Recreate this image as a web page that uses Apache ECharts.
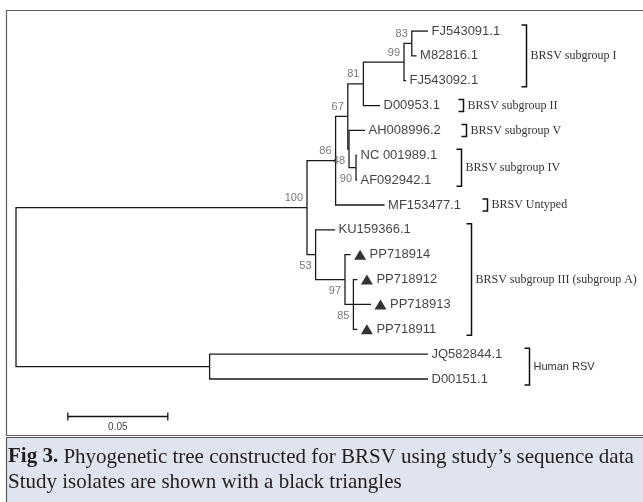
<!DOCTYPE html>
<html>
<head>
<meta charset="utf-8">
<script src="https://cdn.jsdelivr.net/npm/echarts@6/dist/echarts.min.js"></script>
<style>
  html, body { margin: 0; padding: 0; background: #fff; }
  #chart { width: 643px; height: 502px; }
</style>
</head>
<body>
<div id="chart"></div>
<script>
// leaves, top to bottom, with their distance from the root
const leafNames = ['FJ543091.1', 'M82816.1', 'FJ543092.1', 'D00953.1', 'AH008996.2', 'NC 001989.1',
  'AF092942.1', 'MF153477.1', 'KU159366.1', 'PP718914', 'PP718912', 'PP718913', 'PP718911',
  'JQ582844.1', 'D00151.1'];
const leafDepth = [0.206, 0.2003, 0.195, 0.182, 0.1745, 0.1705, 0.1705, 0.1843, 0.1595,
  0.1673, 0.1707, 0.1775, 0.1707, 0.206, 0.206];
// study isolates get a black triangle
const studyIsolates = ['PP718914', 'PP718912', 'PP718913', 'PP718911'];

// internal nodes
const nodeIds = ['root', 'n100', 'n86', 'n67', 'n81', 'n99', 'n83', 'n48', 'n90', 'n53', 'n97', 'n85', 'nHuman'];
const nodeDepth = [0, 0.1455, 0.1598, 0.1659, 0.1737, 0.194, 0.1979, 0.1665, 0.17, 0.1498, 0.1645, 0.1687, 0.0968];
const nodeChildren = [
  ['n100', 'nHuman'],
  ['n86', 'n53'],
  ['n67', 'MF153477.1'],
  ['n81', 'n48'],
  ['n99', 'D00953.1'],
  ['n83', 'FJ543092.1'],
  ['FJ543091.1', 'M82816.1'],
  ['AH008996.2', 'n90'],
  ['NC 001989.1', 'AF092942.1'],
  ['KU159366.1', 'n97'],
  ['PP718914', 'n85'],
  ['PP718912', 'PP718913', 'PP718911'],
  ['JQ582844.1', 'D00151.1']
];
const nodeSupport = [null, 100, 86, 67, 81, 99, 83, 48, 90, 53, 97, 85, null];

// clades marked with brackets
const cladeNames = ['BRSV subgroup I', 'BRSV subgroup II', 'BRSV subgroup V', 'BRSV subgroup IV',
  'BRSV Untyped', 'BRSV subgroup III (subgroup A)', 'Human RSV'];
const cladeFirst = ['FJ543091.1', 'D00953.1', 'AH008996.2', 'NC 001989.1', 'MF153477.1', 'KU159366.1', 'JQ582844.1'];
const cladeLast = ['FJ543092.1', 'D00953.1', 'AH008996.2', 'AF092942.1', 'MF153477.1', 'PP718911', 'D00151.1'];

const scaleBarLength = 0.05;
const scaleBarLabel = '0.05';

// layout only (axis units / pixels)
const cladeBracketX = [0.2549, 0.2237, 0.2249, 0.2225, 0.2353, 0.2275, 0.2565];
const supportBelow = ['n48', 'n90', 'n53', 'n97', 'n85'];
const scaleBarAt = [0.0259, 15.48];

// node positions: leaves by row, internal nodes centred on their first/last child
const pos = {};
leafNames.forEach((n, i) => { pos[n] = { x: leafDepth[i], y: i }; });
const place = (id) => {
  if (pos[id]) return pos[id];
  const k = nodeIds.indexOf(id);
  const kids = nodeChildren[k].map(place);
  pos[id] = { x: nodeDepth[k], y: (kids[0].y + kids[kids.length - 1].y) / 2 };
  return pos[id];
};
place('root');

const branches = [];
nodeIds.forEach((id, k) => {
  const p = pos[id];
  nodeChildren[k].forEach((c) => {
    const q = pos[c];
    branches.push({ coords: [[p.x, p.y], [p.x, q.y], [q.x, q.y]] });
  });
});

const leafLabels = leafNames.map((n, i) => {
  const item = { value: [leafDepth[i], i, n] };
  if (studyIsolates.includes(n)) item.label = { distance: 19 };
  return item;
});
const triangles = studyIsolates.map((n) => [pos[n].x, pos[n].y]);

const supportLabels = [];
nodeIds.forEach((id, k) => {
  if (nodeSupport[k] == null) return;
  supportLabels.push({
    value: [pos[id].x, pos[id].y, String(nodeSupport[k])],
    label: { offset: [0, supportBelow.includes(id) ? 11.5 : -9.5] }
  });
});

const chart = echarts.init(document.getElementById('chart'));
const sans = '"Liberation Sans", Arial, sans-serif';
const serif = '"Liberation Serif", "Times New Roman", serif';

chart.setOption({
  animation: false,
  backgroundColor: '#fff',
  grid: { left: 16, top: 31, width: 600, height: 397.7 },
  xAxis: { type: 'value', min: 0, max: 0.3, show: false },
  yAxis: { type: 'value', min: 0, max: 16, inverse: true, show: false },
  graphic: [
    { type: 'rect', z: -10, shape: { x: 6.5, y: 10.5, width: 700, height: 425 },
      style: { fill: '#fff', stroke: '#606060', lineWidth: 1.2 } },
    { type: 'rect', z: -10, shape: { x: 6.5, y: 437.5, width: 700, height: 80 },
      style: { fill: '#dfe4ee', stroke: '#555', lineWidth: 1.2 } },
    { type: 'text', z: 10, x: 8, y: 457,
      style: { text: '{b|Fig 3.} Phyogenetic tree constructed for BRSV using study\u2019s sequence data',
        fontSize: 21, fontFamily: serif, fill: '#231f20', verticalAlign: 'middle',
        rich: { b: { fontSize: 21, fontFamily: serif, fontWeight: 'bold', fill: '#231f20' } } } },
    { type: 'text', z: 10, x: 8, y: 482,
      style: { text: 'Study isolates are shown with a black triangles',
        fontSize: 21, fontFamily: serif, fill: '#231f20', verticalAlign: 'middle' } }
  ],
  series: [
    {
      type: 'lines',
      coordinateSystem: 'cartesian2d',
      polyline: true,
      silent: true,
      data: branches,
      lineStyle: { color: '#1a1a1a', width: 1.3, opacity: 1 }
    },
    {
      type: 'scatter',
      silent: true,
      symbolSize: 0,
      data: leafLabels,
      label: {
        show: true, position: 'right', distance: 3.5,
        formatter: (p) => p.value[2],
        fontFamily: sans, fontSize: 13, color: '#111'
      }
    },
    {
      type: 'scatter',
      silent: true,
      symbol: 'triangle',
      symbolSize: [12, 10],
      symbolOffset: [9.5, 0],
      data: triangles,
      itemStyle: { color: '#000' }
    },
    {
      type: 'scatter',
      silent: true,
      symbolSize: 0,
      data: supportLabels,
      label: {
        show: true, position: 'left', distance: 4,
        formatter: (p) => p.value[2],
        fontFamily: sans, fontSize: 11, color: '#555'
      }
    },
    {
      type: 'custom',
      silent: true,
      clip: false,
      data: cladeNames.map((n, i) => [cladeBracketX[i], pos[cladeFirst[i]].y, pos[cladeLast[i]].y, i]),
      renderItem: (params, api) => {
        const i = api.value(3);
        const a = api.coord([api.value(0), api.value(1)]);
        const b = api.coord([api.value(0), api.value(2)]);
        const x = Math.round(a[0]) + 0.5;
        const y1 = a[1] - 6, y2 = b[1] + 6;
        const human = i === cladeNames.length - 1;
        return {
          type: 'group',
          children: [
            { type: 'polyline', shape: { points: [[x - 5, y1], [x, y1], [x, y2], [x - 5, y2]] },
              style: { stroke: '#111', lineWidth: 1.5, fill: 'none' } },
            { type: 'text', x: x + 4, y: (y1 + y2) / 2,
              style: { text: cladeNames[i], fill: '#333', align: 'left', verticalAlign: 'middle',
                fontSize: human ? 11 : 12, fontFamily: human ? sans : serif } }
          ]
        };
      }
    },
    {
      type: 'custom',
      silent: true,
      clip: false,
      data: [[scaleBarAt[0], scaleBarAt[1], scaleBarLength]],
      renderItem: (params, api) => {
        const a = api.coord([api.value(0), api.value(1)]);
        const b = api.coord([api.value(0) + api.value(2), api.value(1)]);
        const y = Math.round(a[1]) + 0.5;
        return {
          type: 'group',
          children: [
            { type: 'line', shape: { x1: a[0], y1: y, x2: b[0], y2: y }, style: { stroke: '#111', lineWidth: 1.3 } },
            { type: 'line', shape: { x1: a[0], y1: y - 4, x2: a[0], y2: y + 4 }, style: { stroke: '#111', lineWidth: 1.3 } },
            { type: 'line', shape: { x1: b[0], y1: y - 4, x2: b[0], y2: y + 4 }, style: { stroke: '#111', lineWidth: 1.3 } },
            { type: 'text', x: (a[0] + b[0]) / 2, y: y + 11,
              style: { text: scaleBarLabel, fill: '#444', align: 'center', verticalAlign: 'middle',
                fontSize: 10, fontFamily: sans } }
          ]
        };
      }
    }
  ]
});
</script>
</body>
</html>
